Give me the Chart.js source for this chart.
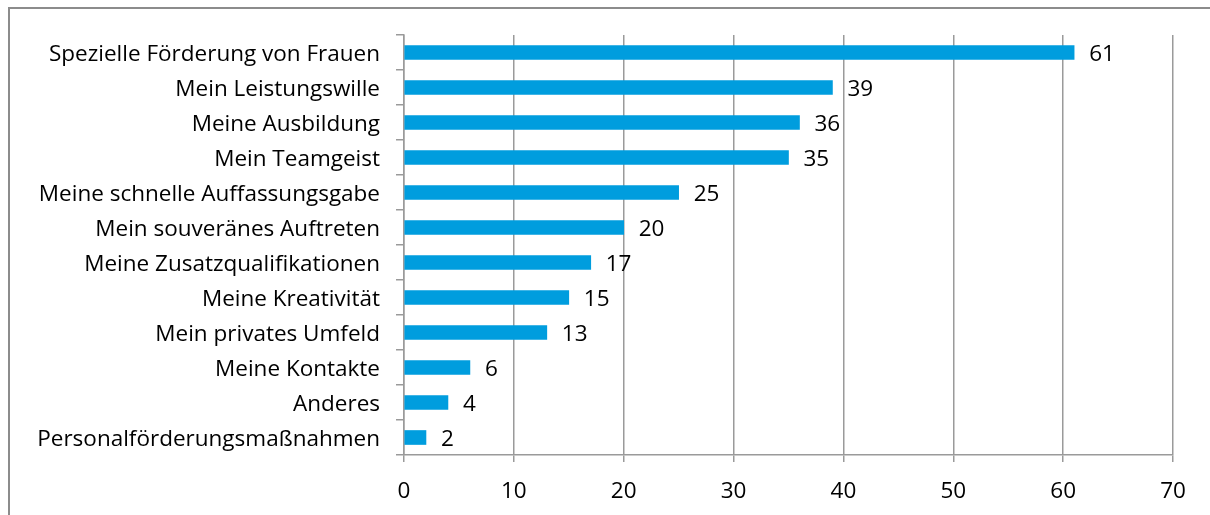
<!DOCTYPE html>
<html>
<head>
<meta charset="utf-8">
<script src="https://cdn.jsdelivr.net/npm/chart.js@4.4.1/dist/chart.umd.min.js"></script>
<style>
html,body{margin:0;padding:0;background:#fff;}
#wrap{width:1210px;height:515px;position:relative;}
</style>
</head>
<body>
<div id="wrap"><canvas id="c" width="1210" height="515"></canvas></div>
<script>
const categories = [
  "Spezielle Förderung von Frauen",
  "Mein Leistungswille",
  "Meine Ausbildung",
  "Mein Teamgeist",
  "Meine schnelle Auffassungsgabe",
  "Mein souveränes Auftreten",
  "Meine Zusatzqualifikationen",
  "Meine Kreativität",
  "Mein privates Umfeld",
  "Meine Kontakte",
  "Anderes",
  "Personalförderungsmaßnahmen"
];
const values = [61, 39, 36, 35, 25, 20, 17, 15, 13, 6, 4, 2];
const xTicks = [0, 10, 20, 30, 40, 50, 60, 70];

const FONT = "'Open Sans'";
const FS = 22.5;
const GRID = "#9a9a9a";

const frame = {
  id: "frame",
  beforeDraw(chart) {
    const ctx = chart.ctx;
    ctx.save();
    ctx.fillStyle = "#fff";
    ctx.fillRect(0, 0, chart.width, chart.height);
    ctx.strokeStyle = "#8c8c8c";
    ctx.lineWidth = 2;
    ctx.strokeRect(9, 8, chart.width + 20, chart.height + 20);
    ctx.restore();
  }
};

const valueLabels = {
  id: "valueLabels",
  afterDatasetsDraw(chart) {
    const ctx = chart.ctx;
    const meta = chart.getDatasetMeta(0);
    ctx.save();
    ctx.font = FS + "px " + FONT;
    ctx.fillStyle = "#000";
    ctx.textAlign = "left";
    ctx.textBaseline = "middle";
    meta.data.forEach((bar, i) => {
      ctx.fillText(String(values[i]), bar.x + 15, bar.y + 2);
    });
    ctx.restore();
  }
};

new Chart(document.getElementById("c"), {
  type: "bar",
  data: {
    labels: categories,
    datasets: [{
      data: values,
      backgroundColor: "#009DDE",
      borderWidth: 0,
      barThickness: 14
    }]
  },
  options: {
    indexAxis: "y",
    responsive: false,
    animation: false,
    devicePixelRatio: 1,
    layout: { padding: { top: 35, right: 37, left: 0, bottom: 0 } },
    plugins: { legend: { display: false }, tooltip: { enabled: false } },
    scales: {
      x: {
        min: 0, max: 70,
        afterBuildTicks(scale) { scale.ticks = xTicks.map(v => ({ value: v })); },
        afterFit(scale) { scale.height = 60; },
        grid: { color: GRID, lineWidth: 1.5, tickLength: 7, drawOnChartArea: true },
        border: { color: GRID, width: 1.5 },
        ticks: { color: "#000", font: { family: FONT, size: FS }, padding: 16, maxRotation: 0 }
      },
      y: {
        afterFit(scale) { scale.width = 404; },
        grid: { color: GRID, lineWidth: 1.5, tickLength: 8, drawOnChartArea: false, offset: true },
        border: { color: GRID, width: 1.5 },
        ticks: { color: "#000", font: { family: FONT, size: FS }, padding: 16, autoSkip: false, labelOffset: 2 }
      }
    }
  },
  plugins: [frame, valueLabels]
});
</script>
</body>
</html>
